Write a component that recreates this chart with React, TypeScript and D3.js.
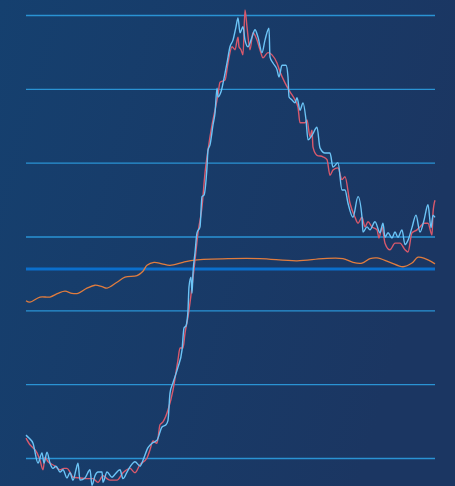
import { useEffect, useRef } from "react";
import * as d3 from "d3";

// [day, value] samples
const blueSeries: [number, number][] = [
  [0, 3.1], [3, 2.7], [7, 2.0], [12, -0.7], [16, 0.7], [18, -0.7], [21, 0.8], [24, -0.7],
  [27, -1.4], [30, -1.1], [34, -1.9], [37, -1.6], [41, -2.7], [44, -2.0], [47, -3.0], [50, -1.6],
  [52, -0.7], [54, -3.0], [59, -2.7], [64, -1.6], [66, -3.7], [69, -2.4], [72, -1.9], [76, -1.9],
  [77, -3.3], [81, -1.9], [86, -2.6], [89, -2.2], [94, -1.6], [97, -2.8], [101, -1.9], [104, -1.2],
  [109, -0.5], [114, -1.1], [117, -0.3], [122, 1.4], [126, 2.0], [131, 2.4], [136, 4.2], [140, 4.5],
  [142, 5.1], [144, 8.8], [147, 10.2], [152, 12.3], [156, 14.6], [158, 17.6], [160, 17.9], [162, 20.0],
  [163, 23.2], [165, 24.5], [166, 22.3], [167, 25.1], [169, 27.8], [171, 30.5], [174, 31.3], [176, 35.4],
  [178, 35.6], [181, 39.4], [182, 41.7], [184, 42.4], [187, 45.1], [189, 46.7], [191, 50.1], [192, 48.9],
  [195, 49.6], [199, 52.1], [201, 53.5], [204, 55.7], [207, 56.6], [210, 58.4], [212, 59.6], [214, 57.6],
  [217, 58.4], [219, 56.6], [222, 55.7], [226, 57.0], [229, 58.0], [232, 57.0], [236, 54.9], [239, 56.6],
  [243, 58.2], [244, 54.3], [247, 53.5], [251, 52.6], [253, 51.6], [256, 53.2], [260, 53.2], [262, 51.6],
  [263, 48.9], [266, 48.5], [269, 48.1], [271, 48.8], [274, 47.1], [277, 48.1], [280, 45.8], [282, 43.1],
  [286, 43.7], [291, 44.8], [294, 42.0], [299, 41.3], [304, 41.3], [307, 39.4], [312, 40.0], [316, 36.3],
  [319, 36.3], [322, 34.5], [327, 32.6], [332, 35.4], [336, 32.6], [337, 30.6], [341, 31.3], [344, 30.9],
  [349, 32.0], [354, 30.5], [357, 31.8], [359, 29.9], [362, 30.5], [366, 29.8], [369, 30.6], [372, 29.9],
  [376, 30.9], [379, 28.9], [382, 29.5], [386, 31.2], [390, 32.9], [394, 30.6], [398, 32.2], [402, 34.3],
  [405, 31.2], [407, 32.9], [409, 32.6],
];

const redSeries: [number, number][] = [
  [0, 2.7], [4, 1.8], [7, 1.4], [11, 0.7], [14, -0.3], [17, -1.6], [19, 0.1], [22, -0.5],
  [24, -0.7], [29, -1.1], [34, -1.6], [38, -1.4], [41, -1.4], [44, -1.9], [47, -2.6], [54, -2.7],
  [61, -2.8], [67, -2.8], [72, -3.3], [77, -2.4], [81, -2.8], [84, -3.0], [91, -3.0], [97, -2.0],
  [104, -1.4], [109, -2.0], [114, -0.9], [121, 0.0], [124, 1.1], [127, 2.3], [131, 2.0], [134, 4.5],
  [137, 4.9], [142, 6.5], [147, 9.2], [152, 13.3], [154, 14.9], [157, 14.9], [159, 16.9], [162, 19.1],
  [166, 23.2], [169, 26.8], [172, 30.5], [176, 34.0], [179, 38.6], [182, 41.7], [186, 45.1], [189, 47.1],
  [192, 49.2], [194, 50.9], [199, 51.2], [202, 53.5], [206, 55.7], [209, 55.3], [212, 57.0], [213, 55.7],
  [215, 55.3], [217, 54.6], [219, 60.7], [221, 58.4], [224, 55.3], [227, 57.6], [231, 56.6], [234, 55.3],
  [237, 54.2], [242, 54.9], [246, 54.6], [251, 53.5], [254, 52.3], [259, 50.8], [264, 49.6], [269, 48.5],
  [272, 47.5], [274, 45.4], [279, 45.4], [281, 45.8], [284, 43.5], [286, 44.4], [287, 42.1], [291, 41.0],
  [297, 40.8], [301, 40.4], [304, 38.3], [307, 39.0], [312, 39.3], [316, 37.7], [319, 38.1], [324, 34.5],
  [329, 32.6], [332, 31.8], [336, 32.6], [339, 31.3], [342, 32.0], [346, 31.3], [351, 30.9], [353, 29.8],
  [356, 31.3], [359, 29.1], [364, 28.2], [369, 29.1], [374, 29.1], [379, 28.2], [382, 27.9], [386, 30.5],
  [391, 30.9], [394, 31.3], [398, 31.8], [402, 31.8], [406, 30.2], [407, 33.2], [409, 34.9],
];

const orangeSeries: [number, number][] = [
  [0, 21.3], [4, 21.1], [14, 21.8], [24, 21.8], [32, 22.3], [39, 22.6], [46, 22.3], [52, 22.3],
  [61, 23.0], [69, 23.4], [76, 23.2], [81, 23.0], [91, 23.8], [99, 24.5], [111, 24.7], [117, 25.3],
  [121, 26.1], [128, 26.5], [136, 26.3], [144, 26.1], [157, 26.5], [169, 26.8], [204, 27.0], [234, 27.0],
  [271, 26.7], [297, 27.0], [317, 27.0], [327, 26.5], [336, 26.4], [344, 27.0], [351, 27.1], [364, 26.5],
  [377, 25.9], [386, 26.4], [392, 27.2], [399, 27.0], [409, 26.3],
];

const gridValues = [0, 10, 20, 30, 40, 50, 60];
const referenceValue = 25.6;

const App = () => {
  const svgRef = useRef<SVGSVGElement>(null);

  useEffect(() => {
    if (!svgRef.current) return;
    const width = 455;
    const height = 486;
    const margin = { left: 26, right: 20 };

    const svg = d3.select(svgRef.current);
    svg.selectAll("*").remove();
    svg.attr("width", width).attr("height", height);

    // Background gradient
    const defs = svg.append("defs");
    const grad = defs
      .append("linearGradient")
      .attr("id", "bg")
      .attr("x1", "0%")
      .attr("y1", "0%")
      .attr("x2", "100%")
      .attr("y2", "30%");
    grad.append("stop").attr("offset", "0%").attr("stop-color", "#15406f");
    grad.append("stop").attr("offset", "100%").attr("stop-color", "#1b3662");
    svg.append("rect").attr("width", width).attr("height", height).attr("fill", "url(#bg)");

    const x = d3.scaleLinear().domain([0, 409]).range([margin.left, width - margin.right]);
    const y = d3.scaleLinear().domain([0, 60]).range([458, 15]);

    // Gridlines
    svg
      .append("g")
      .attr("transform", `translate(${margin.left},0)`)
      .call(
        d3
          .axisLeft(y)
          .tickValues(gridValues)
          .tickSize(-(width - margin.left - margin.right))
          .tickFormat(() => "")
      )
      .call((g) => g.select(".domain").remove())
      .selectAll("line")
      .attr("stroke", "#2a93d4")
      .attr("stroke-width", 1.3);

    // Reference line
    svg
      .append("line")
      .attr("x1", margin.left)
      .attr("x2", width - margin.right)
      .attr("y1", y(referenceValue))
      .attr("y2", y(referenceValue))
      .attr("stroke", "#0b6fcc")
      .attr("stroke-width", 3);

    const line = d3
      .line<[number, number]>()
      .x((d) => x(d[0]))
      .y((d) => y(d[1]));

    svg
      .append("path")
      .datum(orangeSeries)
      .attr("d", line.curve(d3.curveCatmullRom.alpha(0.5)))
      .attr("fill", "none")
      .attr("stroke", "#e07c3e")
      .attr("stroke-width", 1.3);

    line.curve(d3.curveMonotoneX);

    svg
      .append("path")
      .datum(redSeries)
      .attr("d", line)
      .attr("fill", "none")
      .attr("stroke", "#d9596c")
      .attr("stroke-width", 1.4);

    svg
      .append("path")
      .datum(blueSeries)
      .attr("d", line)
      .attr("fill", "none")
      .attr("stroke", "#6cc4f6")
      .attr("stroke-width", 1.4);
  }, []);

  return (
    <div style={{ position: "fixed", left: 0, top: 0, width: 455, height: 486 }}>
      <svg ref={svgRef} style={{ display: "block" }} />
    </div>
  );
};

export default App;
